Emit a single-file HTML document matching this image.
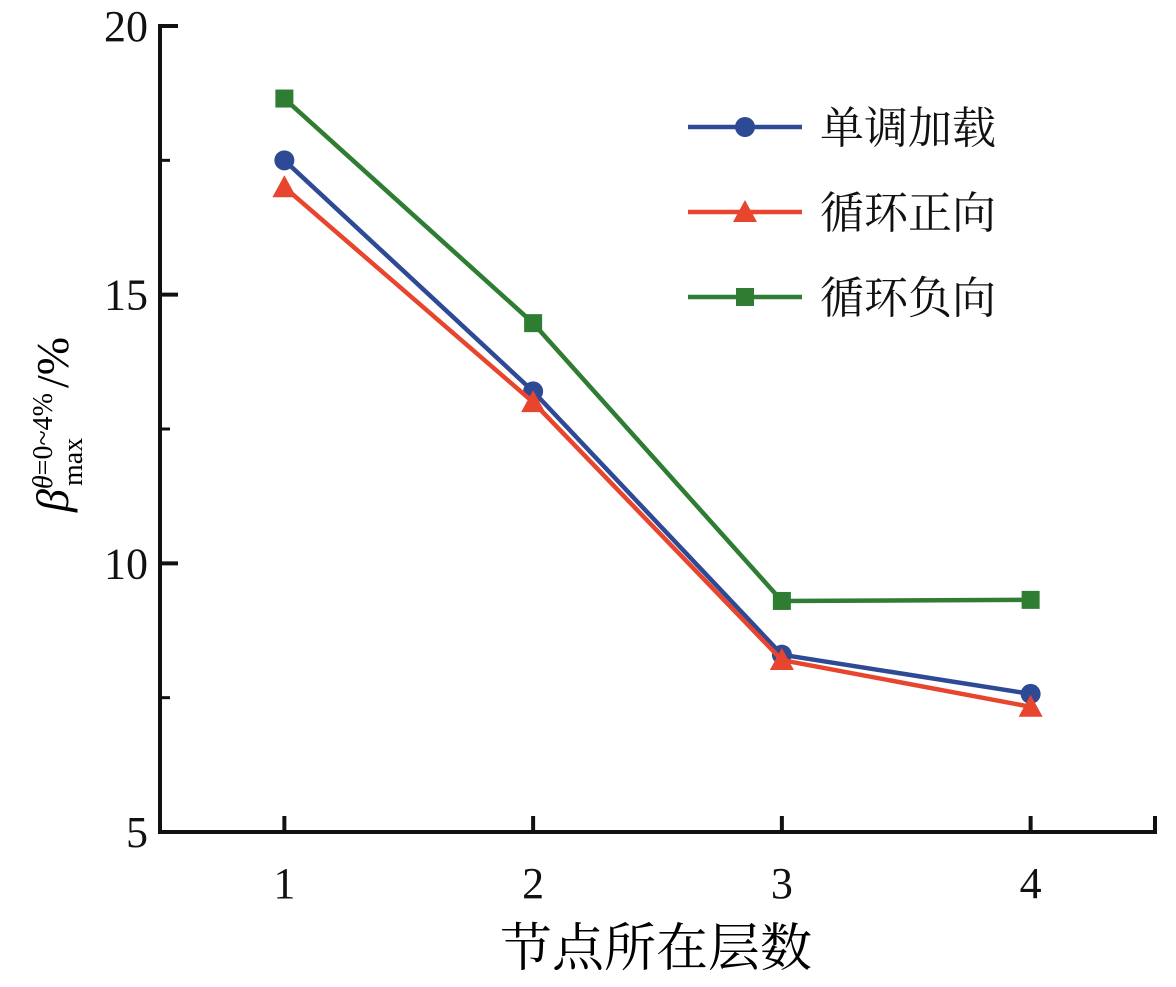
<!DOCTYPE html>
<html><head><meta charset="utf-8"><style>
html,body{margin:0;padding:0;background:#fff;}
svg text{font-family:"Liberation Serif","Noto Serif CJK SC",serif;}
</style></head><body>
<svg width="1176" height="982" viewBox="0 0 1176 982" xmlns="http://www.w3.org/2000/svg">
<g id="axes"></g>
<g id="series"></g>
<g id="legend"></g>
<text x="656" y="966" font-size="52" text-anchor="middle" font-family="Noto Serif CJK SC, serif">节点所在层数</text>
<g transform="translate(68,512) rotate(-90)">
<text x="0" y="0" font-size="46"><tspan font-style="italic">β</tspan><tspan font-size="28" dy="-16" font-style="italic">θ</tspan><tspan font-size="28">=0~4%</tspan></text>
<text x="26" y="14" font-size="28">max</text>
<text x="124" y="0" font-size="46">/%</text>
</g>
</svg>
<script>
const categories=[1,2,3,4];
const seriesNames=["单调加载","循环正向","循环负向"];
const monotonic=[17.5,13.2,8.3,7.57];
const cyclicPos=[17.0,13.0,8.2,7.33];
const cyclicNeg=[18.65,14.47,9.3,9.32];
const yTicks=[5,10,15,20];
const yMinor=[7.5,12.5,17.5];
const NS="http://www.w3.org/2000/svg";
const X0=160,X1=1155,Y0=832,Y1=26;
const xs=v=>X0+(v-0.5)/4*(X1-X0);
const ys=v=>Y0-(v-5)/15*(Y0-Y1);
function mk(t,a,p){const e=document.createElementNS(NS,t);for(const k in a)e.setAttribute(k,a[k]);p.appendChild(e);return e;}
const ax=document.getElementById('axes');
let l=mk('path',{d:`M${X0},${Y1-2} V${Y0} H${X1} V${Y0-16}`,fill:'none',stroke:'#111','stroke-width':4},ax);

yTicks.forEach(v=>{const y=ys(v);
 let t=mk('line',{x1:X0,x2:X0+18,y1:y,y2:y,stroke:'#111','stroke-width':4},ax);
 
 let tx=mk('text',{x:X0-12,y:y+15,'font-size':44,'text-anchor':'end',fill:'#111'},ax);tx.textContent=v;
 });
yMinor.forEach(v=>{const y=ys(v);
 let t=mk('line',{x1:X0,x2:X0+10,y1:y,y2:y,stroke:'#111','stroke-width':3},ax);
 });
categories.forEach(c=>{const x=xs(c);
 let t=mk('line',{x1:x,x2:x,y1:Y0,y2:Y0-16,stroke:'#111','stroke-width':4},ax);
 
 let tx=mk('text',{x:x,y:Y0+66,'font-size':44,'text-anchor':'middle',fill:'#111'},ax);tx.textContent=c;
 });
const colors=['#2e4a94','#e8452e','#2f7d32'];
const data=[monotonic,cyclicPos,cyclicNeg];
const shapes=['circle','triangle','square'];
function marker(g,shape,x,y,c){
 let e;
 if(shape==='circle')e=mk('circle',{cx:x,cy:y,r:10,fill:c},g);
 else if(shape==='triangle')e=mk('polygon',{points:`${x},${y-12} ${x-12},${y+10} ${x+12},${y+10}`,fill:c},g);
 else e=mk('rect',{x:x-9,y:y-9,width:18,height:18,fill:c},g);
 return e;}
const sg=document.getElementById('series');
data.forEach((arr,i)=>{
 const g=mk('g',{},sg);
 
 let p=mk('polyline',{points:arr.map((v,j)=>xs(categories[j])+','+ys(v)).join(' '),fill:'none',stroke:colors[i],'stroke-width':4.5},g);
 
 arr.forEach((v,j)=>{const m=marker(g,shapes[i],xs(categories[j]),ys(v),colors[i]);
  });
});
const lg=document.getElementById('legend');
seriesNames.forEach((n,i)=>{const y=127+i*85;
 const g=mk('g',{},lg);
 
 mk('line',{x1:688,x2:802,y1:y,y2:y,stroke:colors[i],'stroke-width':4.5},g);
 marker(g,shapes[i],745,y,colors[i]);
 const t=mk('text',{x:820,y:y+16,'font-size':44,fill:'#111','font-family':'Noto Serif CJK SC, serif'},g);t.textContent=n;
});
</script>
</body></html>
